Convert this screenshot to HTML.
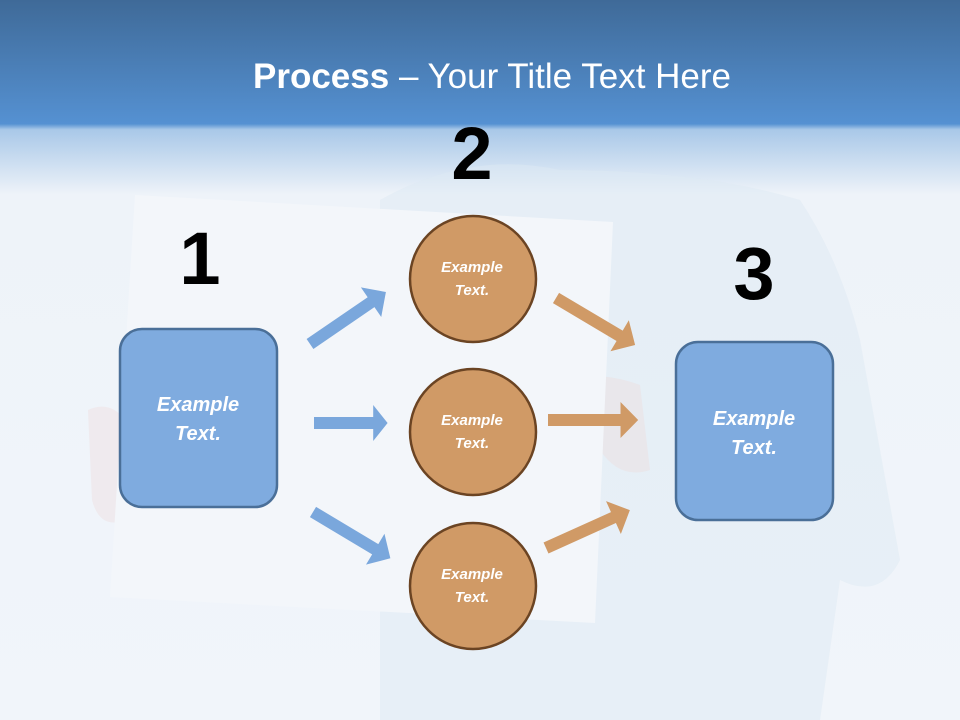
<!DOCTYPE html>
<html><head><style>
html,body{margin:0;padding:0;width:960px;height:720px;overflow:hidden;}
svg{display:block}
</style></head><body>
<svg width="960" height="720" viewBox="0 0 960 720" xmlns="http://www.w3.org/2000/svg">
<defs>
<linearGradient id="bg" x1="0" y1="0" x2="0" y2="1">
<stop offset="0" stop-color="#3f6a98"/>
<stop offset="0.172" stop-color="#5591d2"/>
<stop offset="0.18" stop-color="#a9c8e8"/>
<stop offset="0.27" stop-color="#eef3f9"/>
<stop offset="1" stop-color="#f1f5fa"/>
</linearGradient>
<g id="ar"><polygon points="0,-6 74,-6 74,-18 92,0 74,18 74,6 0,6"/></g>
</defs>
<rect width="960" height="720" fill="url(#bg)"/>
<!-- faint person -->
<path d="M380,200 Q470,150 560,170 Q700,170 800,200 Q840,260 860,340 L900,560 Q880,600 840,580 L820,720 L380,720 Z" fill="#dde9f4" opacity="0.5"/>
<path d="M560,380 Q600,370 640,385 L650,470 Q620,480 600,450 Z" fill="#ecdfe0" opacity="0.5"/>
<path d="M88,410 Q110,400 125,420 L125,520 Q100,530 92,500 Z" fill="#efe3e6" opacity="0.6"/>
<!-- paper -->
<polygon points="135,195 613,222 595,623 110,597" fill="#f3f6fa"/>
<!-- numbers -->
<g font-family="Liberation Sans, sans-serif" font-weight="bold" fill="#000" text-anchor="middle">
<text x="200" y="284" font-size="74">1</text>
<text x="472" y="179" font-size="74">2</text>
<text x="754" y="299" font-size="74">3</text>
</g>
<text x="492" y="88" text-anchor="middle" font-family="Liberation Sans, sans-serif" font-size="35" fill="#fff"><tspan font-weight="bold">Process</tspan> – Your Title Text Here</text>
<!-- arrows -->
<g fill="#7aa7dc">
<use href="#ar" transform="translate(310,344) rotate(-34.4)"/>
<use href="#ar" transform="translate(314,423) scale(0.8,1)"/>
<use href="#ar" transform="translate(313,512) rotate(30.9) scale(0.98,1)"/>
</g>
<g fill="#d09a66">
<use href="#ar" transform="translate(556,298) rotate(30.7)"/>
<use href="#ar" transform="translate(548,420) scale(0.98,1)"/>
<use href="#ar" transform="translate(546,548) rotate(-24.3)"/>
</g>
<!-- boxes -->
<rect x="120" y="329" width="157" height="178" rx="22" fill="#7fabdf" stroke="#4a6f98" stroke-width="2.5"/>
<rect x="676" y="342" width="157" height="178" rx="22" fill="#7fabdf" stroke="#4a6f98" stroke-width="2.5"/>
<g fill="#d09a66" stroke="#6b4423" stroke-width="2.5">
<circle cx="473" cy="279" r="63"/>
<circle cx="473" cy="432" r="63"/>
<circle cx="473" cy="586" r="63"/>
</g>
<g font-family="Liberation Sans, sans-serif" font-style="italic" font-weight="bold" fill="#fff" text-anchor="middle">
<text x="198" y="411" font-size="20">Example</text>
<text x="198" y="440" font-size="20">Text.</text>
<text x="754" y="425" font-size="20">Example</text>
<text x="754" y="454" font-size="20">Text.</text>
<text x="472" y="272" font-size="15">Example</text>
<text x="472" y="295" font-size="15">Text.</text>
<text x="472" y="425" font-size="15">Example</text>
<text x="472" y="448" font-size="15">Text.</text>
<text x="472" y="579" font-size="15">Example</text>
<text x="472" y="602" font-size="15">Text.</text>
</g>
</svg>
</body></html>
